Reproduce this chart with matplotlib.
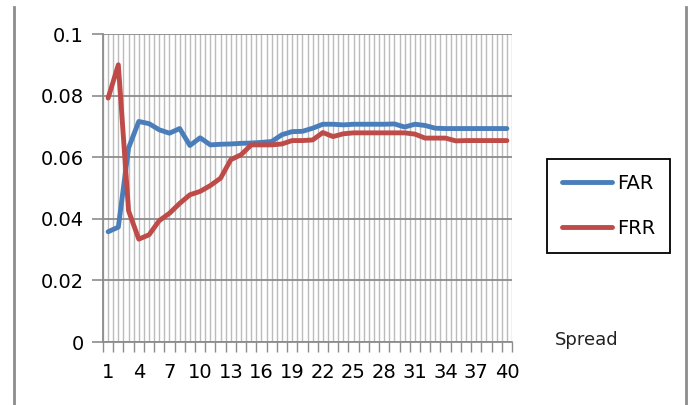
import matplotlib
matplotlib.use("Agg")
import matplotlib.pyplot as plt
from matplotlib.lines import Line2D
import numpy as np

spread = list(range(1, 41))
far = [0.0358, 0.0373, 0.0630, 0.0716, 0.0709, 0.0689, 0.0678, 0.0693, 0.0638, 0.0663,
       0.0640, 0.0642, 0.0643, 0.0645, 0.0646, 0.0648, 0.0651, 0.0673, 0.0683, 0.0684,
       0.0694, 0.0707, 0.0707, 0.0705, 0.0707, 0.0707, 0.0707, 0.0707, 0.0708, 0.0698,
       0.0707, 0.0703, 0.0694, 0.0693, 0.0693, 0.0693, 0.0693, 0.0693, 0.0693, 0.0693]
frr = [0.0792, 0.0900, 0.0426, 0.0334, 0.0348, 0.0394, 0.0418, 0.0450, 0.0478, 0.0489,
       0.0508, 0.0532, 0.0592, 0.0608, 0.0640, 0.0640, 0.0640, 0.0643, 0.0654, 0.0654,
       0.0656, 0.0680, 0.0667, 0.0676, 0.0679, 0.0679, 0.0679, 0.0679, 0.0679, 0.0679,
       0.0675, 0.0662, 0.0662, 0.0662, 0.0653, 0.0654, 0.0654, 0.0654, 0.0654, 0.0654]
yticks = [0, 0.02, 0.04, 0.06, 0.08, 0.1]
ytick_labels = ["0", "0.02", "0.04", "0.06", "0.08", "0.1"]

plt.rcParams['font.family'] = ['DejaVu Sans']

fig = plt.figure(figsize=(6.93, 4.05), dpi=100)
ax = fig.add_axes([103/693, 1-342/405, (512-103)/693, (342-34)/405])

grid_col = '#bcbcbc'
ax.plot(spread, far, color='#4a7ebb', lw=3.5, solid_capstyle='round', solid_joinstyle='round', label='FAR', zorder=3)
ax.plot(spread, frr, color='#be4b48', lw=3.5, solid_capstyle='round', solid_joinstyle='round', label='FRR', zorder=3)

ax.set_xlim(0.5, 40.5)
ax.set_ylim(0, 0.1)
ax.set_yticks(yticks)
ax.set_yticklabels(ytick_labels)
ax.set_xticks(spread)
ax.set_xticklabels([str(s) if (s - 1) % 3 == 0 else "" for s in spread])
ax.set_xticks(np.arange(0.5, 41, 1.0), minor=True)
ax.tick_params(axis='x', which='major', length=0, labelsize=14, pad=15)
ax.tick_params(axis='x', which='minor', length=7, color='#8c8c8c', width=1)
ax.tick_params(axis='y', which='major', length=8, color='#8c8c8c', width=1.2, labelsize=14, pad=6)
ax.grid(True, axis='x', which='both', color=grid_col, lw=1.0)
ax.grid(True, axis='y', which='major', color='#8c8c8c', lw=1.3)
ax.set_axisbelow(True)
for s in ['top', 'right']:
    ax.spines[s].set_visible(False)
for s in ['left', 'bottom']:
    ax.spines[s].set_color('#8c8c8c')
    ax.spines[s].set_linewidth(1.3)

leg = fig.legend(loc='center left', bbox_to_anchor=(547/693, 1-206/405), fontsize=14,
                 frameon=True, fancybox=False, edgecolor='black', framealpha=1,
                 handlelength=2.6, handletextpad=0.25, labelspacing=1.35,
                 borderpad=0.75, borderaxespad=0)
leg.get_frame().set_linewidth(1.3)

fig.text(555/693, 1-340/405, 'Spread', fontsize=13, color='#222222', va='center', ha='left')

fig.add_artist(Line2D([14/693, 14/693], [0, 1-7/405], transform=fig.transFigure, color='#8c8c8c', lw=2))
fig.add_artist(Line2D([686/693, 686/693], [0, 1-7/405], transform=fig.transFigure, color='#8c8c8c', lw=2))

fig.savefig('out.png', dpi=100)
